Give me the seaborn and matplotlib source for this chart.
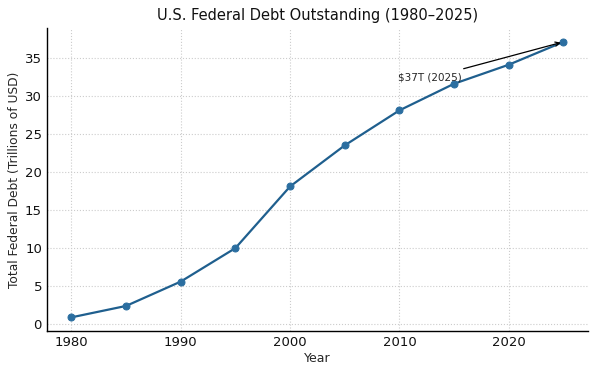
import matplotlib
matplotlib.use("Agg")
import matplotlib.pyplot as plt
import seaborn as sns
import pandas as pd

years = [1980, 1985, 1990, 1995, 2000, 2005, 2010, 2015, 2020, 2025]
debt = [0.9, 2.4, 5.6, 10.0, 18.1, 23.5, 28.1, 31.6, 34.1, 37.1]

df = pd.DataFrame({"Year": years, "Debt": debt})

sns.set_style("white")
plt.rcParams['font.family'] = ['DejaVu Sans']

fig, ax = plt.subplots(figsize=(6, 3.75), dpi=100)
sns.lineplot(data=df, x="Year", y="Debt", ax=ax, color="#1f5f8e", linewidth=1.6,
             marker="o", markersize=5, markerfacecolor="#2b6ea0", markeredgecolor="#2b6ea0")

ax.set_title("U.S. Federal Debt Outstanding (1980\u20132025)", fontsize=10.5, color="#111111")
ax.set_xlabel("Year", fontsize=9, labelpad=2)
ax.set_ylabel("Total Federal Debt (Trillions of USD)", fontsize=8.8, labelpad=3)
ax.set_xticks([1980, 1990, 2000, 2010, 2020])
ax.set_yticks([0, 5, 10, 15, 20, 25, 30, 35])
ax.tick_params(direction="in", labelsize=9.5, length=3, colors="#111111")
ax.grid(True, linestyle=":", color="#cccccc", linewidth=0.8)
for s in ["top", "right"]:
    ax.spines[s].set_visible(False)
for s in ["left", "bottom"]:
    ax.spines[s].set_color("black")
    ax.spines[s].set_linewidth(1.0)

ax.annotate("\\$37T (2025)", xy=(years[-1], debt[-1]), xytext=(2009.9, 32.0),
            fontsize=7.5, arrowprops=dict(arrowstyle="->", color="black", lw=0.9))

fig.subplots_adjust(left=0.078, right=0.98, top=0.925, bottom=0.117)
fig.savefig("out.png", dpi=100)
